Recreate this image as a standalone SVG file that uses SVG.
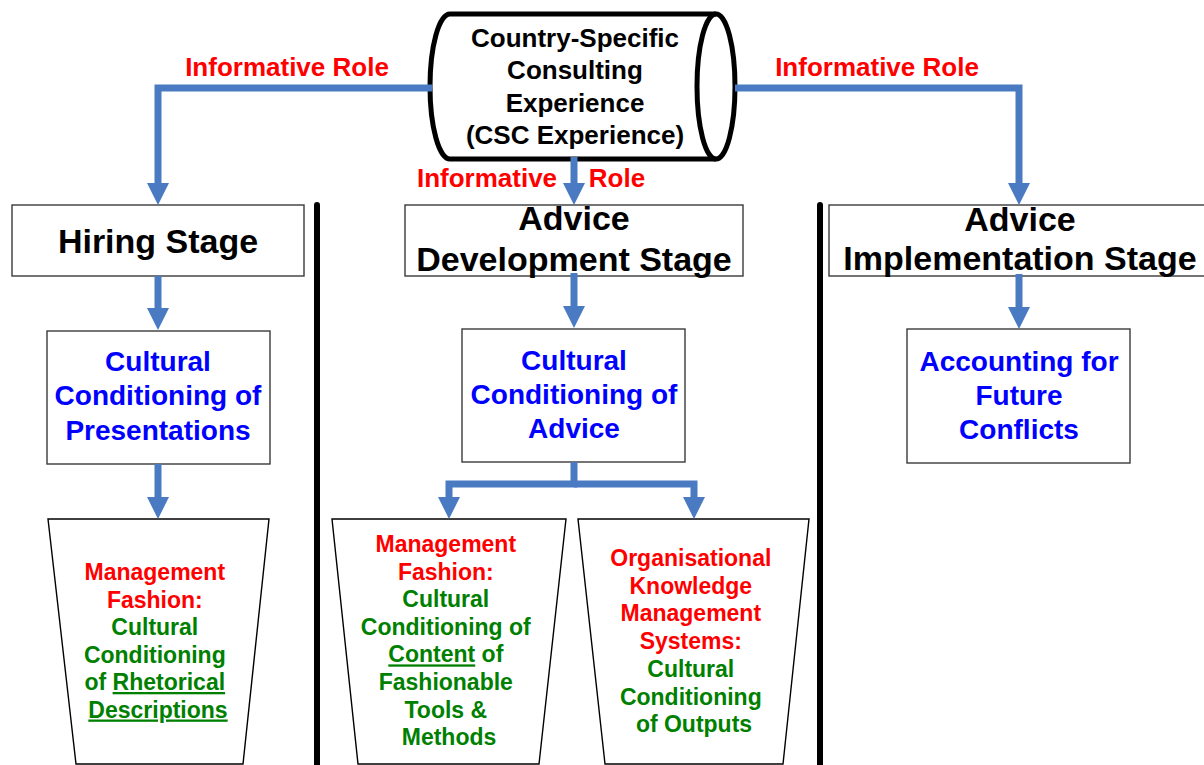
<svg xmlns="http://www.w3.org/2000/svg" width="1204" height="765" viewBox="0 0 1204 765">
<style>
  text { font-family: "Liberation Sans", Arial, sans-serif; font-weight: bold; text-anchor: middle; }
  .stage { font-size: 34px; fill: #000; }
  .cyl { font-size: 26px; fill: #000; }
  .blue { font-size: 28px; fill: #0000FF; }
  .trap { font-size: 23px; }
  .red { fill: #FF0000; }
  .green { fill: #008000; }
  .role { font-size: 26px; fill: #FF0000; }
  .box { fill: #fff; stroke: #3a3a3a; stroke-width: 1.4; }
  .tz { fill: #fff; stroke: #000; stroke-width: 1.4; }
  .conn { fill: none; stroke: #4A7BC2; stroke-width: 7; stroke-linejoin: miter; }
  .sep { stroke: #000; stroke-width: 6; stroke-linecap: round; }
</style>
<defs>
  <marker id="ah" markerUnits="userSpaceOnUse" markerWidth="24" markerHeight="24" refX="1" refY="11" orient="auto">
    <path d="M0,0 L22,11 L0,22 Z" fill="#4A7BC2"/>
  </marker>
</defs>
<rect width="1204" height="765" fill="#fff"/>

<g id="separators">
  <line class="sep" x1="317" y1="205" x2="317" y2="770"/>
  <line class="sep" x1="820" y1="205" x2="820" y2="770"/>
</g>

<g id="csc">
  <path d="M450,14 H716 A19,72.5 0 0 1 716,159 H450 A20,72.5 0 0 1 450,14 Z" fill="#fff" stroke="#000" stroke-width="5"/>
  <path d="M716,14 A19,72.5 0 0 0 716,159" fill="none" stroke="#000" stroke-width="5"/>
  <text class="cyl"><tspan x="575" y="47">Country-Specific</tspan><tspan x="575" y="79">Consulting</tspan><tspan x="575" y="112">Experience</tspan><tspan x="575" y="144">(CSC Experience)</tspan></text>
</g>

<g id="hiring">
  <rect class="box" x="12" y="205" width="292" height="71"/>
  <text class="stage" x="158" y="253">Hiring Stage</text>
</g>

<g id="development">
  <rect class="box" x="405" y="205" width="338" height="71"/>
  <text class="stage"><tspan x="574" y="230">Advice</tspan><tspan x="574" y="271">Development Stage</tspan></text>
</g>

<g id="implementation">
  <rect class="box" x="829" y="205" width="385" height="71"/>
  <text class="stage"><tspan x="1020" y="231">Advice</tspan><tspan x="1020" y="270">Implementation Stage</tspan></text>
</g>

<g id="presentations">
  <rect class="box" x="47" y="331" width="223" height="133"/>
  <text class="blue"><tspan x="158" y="371">Cultural</tspan><tspan x="158" y="405">Conditioning of</tspan><tspan x="158" y="440">Presentations</tspan></text>
</g>

<g id="advice">
  <rect class="box" x="462" y="329" width="223" height="133"/>
  <text class="blue"><tspan x="574" y="370">Cultural</tspan><tspan x="574" y="404">Conditioning of</tspan><tspan x="574" y="438">Advice</tspan></text>
</g>

<g id="conflicts">
  <rect class="box" x="907" y="329" width="223" height="134"/>
  <text class="blue"><tspan x="1019" y="371">Accounting for</tspan><tspan x="1019" y="405">Future</tspan><tspan x="1019" y="439">Conflicts</tspan></text>
</g>

<g id="rhetorical">
  <polygon class="tz" points="48,519 269,519 243,764 76,764"/>
  <text class="trap">
    <tspan class="red" x="158" y="580">Management</tspan>
    <tspan class="red" x="158" y="607.5">Fashion:</tspan>
    <tspan class="green" x="158" y="635">Cultural</tspan>
    <tspan class="green" x="158" y="662.5">Conditioning</tspan>
    <tspan class="green" x="158" y="690">of <tspan text-decoration="underline">Rhetorical</tspan></tspan>
    <tspan class="green" x="158" y="717.5" text-decoration="underline">Descriptions</tspan>
  </text>
</g>

<g id="content">
  <polygon class="tz" points="332,519 566,519 539,764 358,764"/>
  <text class="trap">
    <tspan class="red" x="449" y="552">Management</tspan>
    <tspan class="red" x="449" y="579.6">Fashion:</tspan>
    <tspan class="green" x="449" y="607.2">Cultural</tspan>
    <tspan class="green" x="449" y="634.8">Conditioning of</tspan>
    <tspan class="green" x="449" y="662.4"><tspan text-decoration="underline">Content</tspan> of</tspan>
    <tspan class="green" x="449" y="690">Fashionable</tspan>
    <tspan class="green" x="449" y="717.6">Tools &amp;</tspan>
    <tspan class="green" x="449" y="745.2">Methods</tspan>
  </text>
</g>

<g id="knowledge">
  <polygon class="tz" points="578,519 809,519 783,764 605,764"/>
  <text class="trap">
    <tspan class="red" x="694" y="566">Organisational</tspan>
    <tspan class="red" x="694" y="593.7">Knowledge</tspan>
    <tspan class="red" x="694" y="621.4">Management</tspan>
    <tspan class="red" x="694" y="649.1">Systems:</tspan>
    <tspan class="green" x="694" y="676.8">Cultural</tspan>
    <tspan class="green" x="694" y="704.5">Conditioning</tspan>
    <tspan class="green" x="694" y="732.2">of Outputs</tspan>
  </text>
</g>

<g id="connectors">
  <path class="conn" d="M432,88 H158 V184" marker-end="url(#ah)"/>
  <path class="conn" d="M735,88 H1019 V184" marker-end="url(#ah)"/>
  <path class="conn" d="M574,157 V184" marker-end="url(#ah)"/>
  <path class="conn" d="M158,276 V309" marker-end="url(#ah)"/>
  <path class="conn" d="M158,464 V498" marker-end="url(#ah)"/>
  <path class="conn" d="M574,273 V307" marker-end="url(#ah)"/>
  <path class="conn" d="M1019,274 V308" marker-end="url(#ah)"/>
  <path class="conn" d="M574,462 V484 H449 V498" marker-end="url(#ah)"/>
  <path class="conn" d="M574,484 H694 V498" marker-end="url(#ah)"/>
  <text class="role" x="287" y="76">Informative Role</text>
  <text class="role" x="877" y="76">Informative Role</text>
  <text class="role" x="487" y="187">Informative</text>
  <text class="role" x="617" y="187">Role</text>
</g>
</svg>
